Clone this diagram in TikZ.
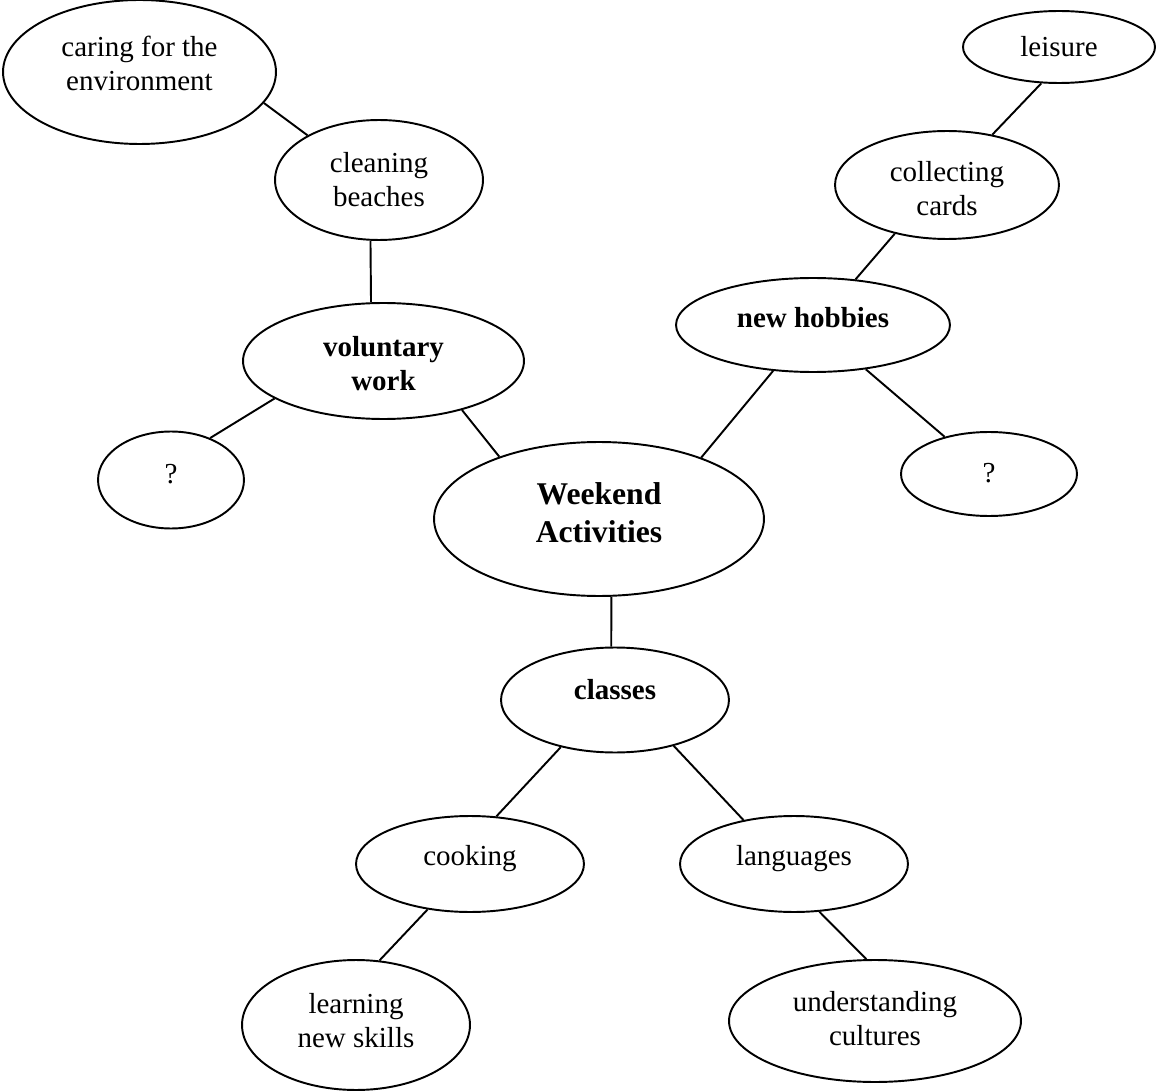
\documentclass[tikz,border=0pt]{standalone}
\usepackage{fontspec}
\setmainfont{Liberation Serif}
\usetikzlibrary{shapes.geometric}
\begin{document}
\begin{tikzpicture}[x=0.02cm,y=-0.02cm,
  el/.style 2 args={ellipse, draw, line width=1.1pt, inner sep=0pt,
    minimum width=#1cm, minimum height=#2cm},
  tx/.style={inner sep=0pt, align=center, font=\fontsize{16.5}{19.3}\selectfont},
  bf/.style={tx, font=\fontsize{16.5}{19.3}\selectfont\bfseries},
  conn/.style={line width=1.1pt}]
\useasboundingbox (0,0) rectangle (1157,1091);
% ellipses
\node[el={5.46}{2.88}] (caring) at (139.5,72) {};
\node[el={4.16}{2.40}] (cleaning) at (379,180) {};
\node[el={3.84}{1.44}] (leisure) at (1059,47) {};
\node[el={4.48}{2.16}] (collecting) at (947,185) {};
\node[el={5.62}{2.32}] (voluntary) at (383.5,361) {};
\node[el={2.92}{1.94}] (qleft) at (171,480) {};
\node[el={5.48}{1.88}] (hobbies) at (813,325) {};
\node[el={3.52}{1.68}] (qright) at (989,474) {};
\node[el={6.60}{3.08}] (weekend) at (599,519) {};
\node[el={4.56}{2.10}] (classes) at (615,700) {};
\node[el={4.56}{1.92}] (cooking) at (470,864) {};
\node[el={4.56}{1.92}] (languages) at (794,864) {};
\node[el={4.56}{2.60}] (learning) at (356,1025) {};
\node[el={5.84}{2.44}] (understanding) at (875,1021) {};
% texts
\node[tx] (caringT) at (139.5,63) {caring for the\\environment};
\node[tx] (cleaningT) at (379,180) {cleaning\\beaches};
\node[tx] (leisureT) at (1059,47) {leisure};
\node[tx] (collectingT) at (947,189) {collecting\\cards};
\node[bf] (voluntaryT) at (383.5,364) {voluntary\\work};
\node[tx] (qleftT) at (171,474) {?};
\node[bf] (hobbiesT) at (813,318) {new hobbies};
\node[tx] (qrightT) at (989,473) {?};
\node[tx, font=\fontsize{18}{21.5}\selectfont\bfseries] (weekendT) at (599,513) {Weekend\\Activities};
\node[bf] (classesT) at (615,690) {classes};
\node[tx] (cookingT) at (470,859) {cooking};
\node[tx] (languagesT) at (794,859) {languages};
\node[tx] (learningT) at (356,1021) {learning\\new skills};
\node[tx] (understandingT) at (875,1019) {understanding\\cultures};
% connectors
\draw[conn] (caring.-14.6) -- (cleaning.148.2);
\draw[conn] (cleaning.262.3) -- (voluntary.102.2);
\draw[conn] (leisure.244.7) -- (collecting.48);
\draw[conn] (collecting.-137.3) -- (hobbies.47);
\draw[conn] (voluntary.199) -- (qleft.47.9);
\draw[conn] (voluntary.-32.3) -- (weekend.148.6);
\draw[conn] (weekend.31.8) -- (hobbies.-131.6);
\draw[conn] (hobbies.-40.9) -- (qright.140.1);
\draw[conn] (weekend.-81.1) -- (classes.94.4);
\draw[conn] (classes.-139.9) -- (cooking.61);
\draw[conn] (classes.-38.5) -- (languages.139.9);
\draw[conn] (cooking.-133.7) -- (learning.70.2);
\draw[conn] (languages.-62.5) -- (understanding.98.4);
\end{tikzpicture}
\end{document}
